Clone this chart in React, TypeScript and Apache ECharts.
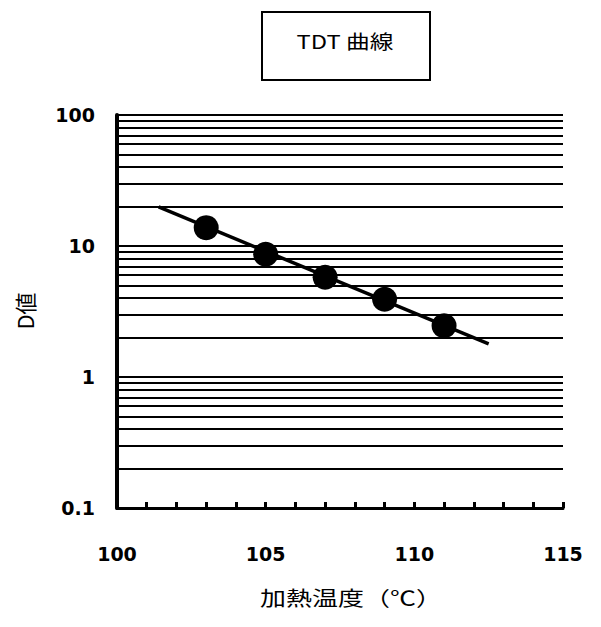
import React, { useEffect, useRef } from "react";
import * as echarts from "echarts";

// Heating temperature (°C) and measured D-values
const temperatures = [103, 105, 107, 109, 111];
const dValues = [13.8, 8.65, 5.77, 3.92, 2.46];

// End points of the fitted TDT line
const fitTemps = [101.4, 112.5];
const fitDValues = [19.9, 1.79];

// Horizontal rules across the log scale
const gridValues = [
  0.2, 0.3, 0.4, 0.5, 0.6, 0.7, 0.8, 0.9,
  1, 2, 3, 4, 5, 6, 7, 8, 9,
  10, 20, 30, 40, 50, 60, 70, 80, 90,
  100,
];

const xLabels = [100, 105, 110, 115];
const yLabels = [0.1, 1, 10, 100];

const titleText = "TDT 曲線";
const xName = "加熱温度（℃）";
const yName = "D値";

const LATIN = "DejaVu Sans";
const CJK = "'Noto Sans CJK JP', 'DejaVu Sans'";

export default function App() {
  const ref = useRef<HTMLDivElement>(null);

  useEffect(() => {
    if (!ref.current) return;
    const chart = echarts.init(ref.current, null, { renderer: "svg" });

    chart.setOption({
      animation: false,
      backgroundColor: "#ffffff",
      grid: { left: 117, right: 38, top: 115, bottom: 119, containLabel: false },
      xAxis: {
        type: "value",
        min: 100,
        max: 115,
        interval: 1,
        axisLine: { show: true, onZero: false, lineStyle: { color: "#000", width: 3 } },
        axisTick: { show: true, inside: true, length: 6, lineStyle: { color: "#000", width: 3 } },
        splitLine: { show: false },
        axisLabel: {
          margin: 36,
          color: "#000",
          fontFamily: LATIN,
          fontWeight: "bold",
          fontSize: 19,
          formatter: (v: number) => (xLabels.includes(v) ? String(v) : ""),
        },
      },
      yAxis: {
        type: "log",
        logBase: 10,
        min: 0.1,
        max: 100,
        axisLine: { show: true, onZero: false, lineStyle: { color: "#000", width: 4 } },
        axisTick: { show: false },
        splitLine: { show: false },
        minorTick: { show: false },
        axisLabel: {
          margin: 22,
          color: "#000",
          fontFamily: LATIN,
          fontWeight: "bold",
          fontSize: 19,
          formatter: (v: number) => {
            const hit = yLabels.find((l) => Math.abs(l - v) < 1e-9 * Math.max(1, v));
            return hit !== undefined ? String(hit) : "";
          },
        },
      },
      series: [
        {
          type: "line",
          data: fitTemps.map((t, i) => [t, fitDValues[i]]),
          symbol: "none",
          lineStyle: { color: "#000", width: 3.5 },
          silent: true,
          z: 3,
          markLine: {
            silent: true,
            symbol: "none",
            label: { show: false },
            lineStyle: { color: "#000", width: 2, type: "solid" },
            data: gridValues.map((v) => ({ yAxis: v })),
            z: 1,
          },
        },
        {
          type: "scatter",
          data: temperatures.map((t, i) => [t, dValues[i]]),
          symbol: "circle",
          symbolSize: 25,
          itemStyle: { color: "#000", opacity: 1 },
          z: 4,
        },
      ],
      graphic: [
        {
          type: "rect",
          shape: { x: 262, y: 12, width: 168, height: 68 },
          style: { fill: "#fff", stroke: "#000", lineWidth: 2 },
          z: 10,
        },
        {
          type: "text",
          x: 345,
          y: 41,
          scaleX: 1.25,
          style: {
            text: titleText,
            x: 0,
            y: 0,
            align: "center",
            verticalAlign: "middle",
            fontFamily: CJK,
            fontSize: 19,
            fill: "#000",
          },
          z: 11,
        },
        {
          type: "text",
          x: 351,
          y: 597,
          scaleX: 1.3,
          style: {
            text: xName,
            x: 0,
            y: 0,
            align: "center",
            verticalAlign: "middle",
            fontFamily: CJK,
            fontSize: 20,
            fill: "#000",
          },
        },
        {
          // axis title reads bottom-to-top
          type: "text",
          x: 24,
          y: 311,
          rotation: Math.PI / 2,
          style: {
            text: yName,
            x: 0,
            y: 0,
            align: "center",
            verticalAlign: "middle",
            fontFamily: CJK,
            fontSize: 22,
            fill: "#000",
          },
        },
      ],
    });

    return () => chart.dispose();
  }, []);

  return (
    <div
      ref={ref}
      style={{ position: "fixed", left: 0, top: 0, width: 601, height: 627 }}
    />
  );
}
